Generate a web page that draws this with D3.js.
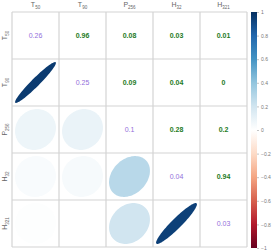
<!DOCTYPE html>
<html>
<head>
<meta charset="utf-8">
<script src="https://cdn.jsdelivr.net/npm/d3@7"></script>
<style>
body{margin:0;background:#fff;}
text{font-family:"Liberation Sans",Arial,sans-serif;}
</style>
</head>
<body>
<script>
// variable names (base + subscript)
var varBase=["T","T","P","H","H"]
var varSub=["50","90","256","32","321"]
var vars=varBase.map(function(d,i){return d+varSub[i]})

// diagonal values
var diagVals=[0.26,0.25,0.1,0.04,0.03]

// upper triangle values, row by row (i<j)
var upperVals=[
  [null,0.96,0.08,0.03,0.01],
  [null,null,0.09,0.04,0],
  [null,null,null,0.28,0.2],
  [null,null,null,null,0.94],
  [null,null,null,null,null]
]

var legendTicks=[1,0.8,0.6,0.4,0.2,0,-0.2,-0.4,-0.6,-0.8,-1]

var width=274, height=251
var svg=d3.select("body").append("svg")
  .attr("width",width).attr("height",height)

var x=d3.scaleBand().domain(vars).range([12,247])
var y=d3.scaleBand().domain(vars).range([12,247])
var bw=x.bandwidth()

var rdbu=["#67001F","#B2182B","#D6604D","#F4A582","#FDDBC7","#FFFFFF","#D1E5F0","#92C5DE","#4393C3","#2166AC","#053061"]
var color=d3.scaleLinear()
  .domain(d3.range(11).map(function(i){return -1+i*0.2}))
  .range(rdbu)

// cells list
var cells=[]
vars.forEach(function(r,i){
  vars.forEach(function(c,j){
    var v
    if(i<j) v=upperVals[i][j]
    else if(i>j) v=upperVals[j][i]
    else v=diagVals[i]
    cells.push({row:r,col:c,i:i,j:j,value:v})
  })
})

// ellipses in lower triangle
var ellipse=function(rho){
  var a=Math.acos(rho), pts=[]
  for(var k=0;k<100;k++){
    var t=k/100*2*Math.PI
    pts.push([Math.cos(t+a/2)/2, -Math.cos(t-a/2)/2])
  }
  return pts
}
var line=d3.line().curve(d3.curveLinearClosed)

svg.selectAll(".ell")
  .data(cells.filter(function(d){return d.i>d.j}))
  .enter().append("path")
  .attr("class","ell")
  .attr("transform",function(d){
    return "translate("+(x(d.col)+bw/2)+","+(y(d.row)+bw/2)+") scale("+(bw*0.87)+")"
  })
  .attr("d",function(d){return line(ellipse(d.value))})
  .attr("fill",function(d){return color(d.value)})

// grid
svg.selectAll(".gv").data(d3.range(6)).enter().append("line")
  .attr("x1",function(d){return 12+d*bw}).attr("x2",function(d){return 12+d*bw})
  .attr("y1",12).attr("y2",247)
  .attr("stroke","#d4d4d4").attr("stroke-width",1.2)
svg.selectAll(".gh").data(d3.range(6)).enter().append("line")
  .attr("y1",function(d){return 12+d*bw}).attr("y2",function(d){return 12+d*bw})
  .attr("x1",12).attr("x2",247)
  .attr("stroke","#d4d4d4").attr("stroke-width",1.2)

// numbers on diagonal and upper triangle
svg.selectAll(".num")
  .data(cells.filter(function(d){return d.i<=d.j}))
  .enter().append("text")
  .attr("x",function(d){return x(d.col)+bw/2})
  .attr("y",function(d){return y(d.row)+bw/2+2.5})
  .attr("text-anchor","middle")
  .attr("font-size",7)
  .attr("font-weight",function(d){return d.i==d.j?"normal":"bold"})
  .attr("fill",function(d){return d.i==d.j?"#9370DB":"#1E7B1E"})
  .text(function(d){return d3.format("~g")(d.value)})

// top labels
var topLab=svg.selectAll(".tl").data(vars).enter().append("text")
  .attr("x",function(d){return x(d)+bw/2}).attr("y",7)
  .attr("text-anchor","middle").attr("font-size",7).attr("fill","#666")
topLab.append("tspan").text(function(d,i){return varBase[i]})
topLab.append("tspan").attr("font-size",4.5).attr("dy",1.5).text(function(d,i){return varSub[i]})

// left labels
var leftLab=svg.selectAll(".ll").data(vars).enter().append("text")
  .attr("transform",function(d){return "translate(7,"+(y(d)+bw/2)+") rotate(-90)"})
  .attr("text-anchor","middle").attr("font-size",7).attr("fill","#666")
leftLab.append("tspan").text(function(d,i){return varBase[i]})
leftLab.append("tspan").attr("font-size",4.5).attr("dy",1.5).text(function(d,i){return varSub[i]})

// color legend
var ly=d3.scaleLinear().domain([-1,1]).range([248,12])
var grad=svg.append("defs").append("linearGradient")
  .attr("id","cb").attr("x1",0).attr("x2",0).attr("y1",1).attr("y2",0)
grad.selectAll("stop").data(rdbu).enter().append("stop")
  .attr("offset",function(d,i){return i/10})
  .attr("stop-color",function(d){return d})
svg.append("rect").attr("x",251).attr("y",ly(1)).attr("width",6)
  .attr("height",ly(-1)-ly(1)).attr("fill","url(#cb)")

var axis=d3.axisRight(ly).tickValues(legendTicks).tickSize(2).tickPadding(2)
  .tickFormat(d3.format("~g"))
var ga=svg.append("g").attr("transform","translate(257,0)").call(axis)
ga.select(".domain").remove()
ga.selectAll("line").attr("stroke","#888").attr("stroke-width",0.5)
ga.selectAll("text").attr("font-size",5).attr("fill","#777")
  .attr("font-family","Liberation Sans,Arial,sans-serif")
</script>
</body>
</html>
